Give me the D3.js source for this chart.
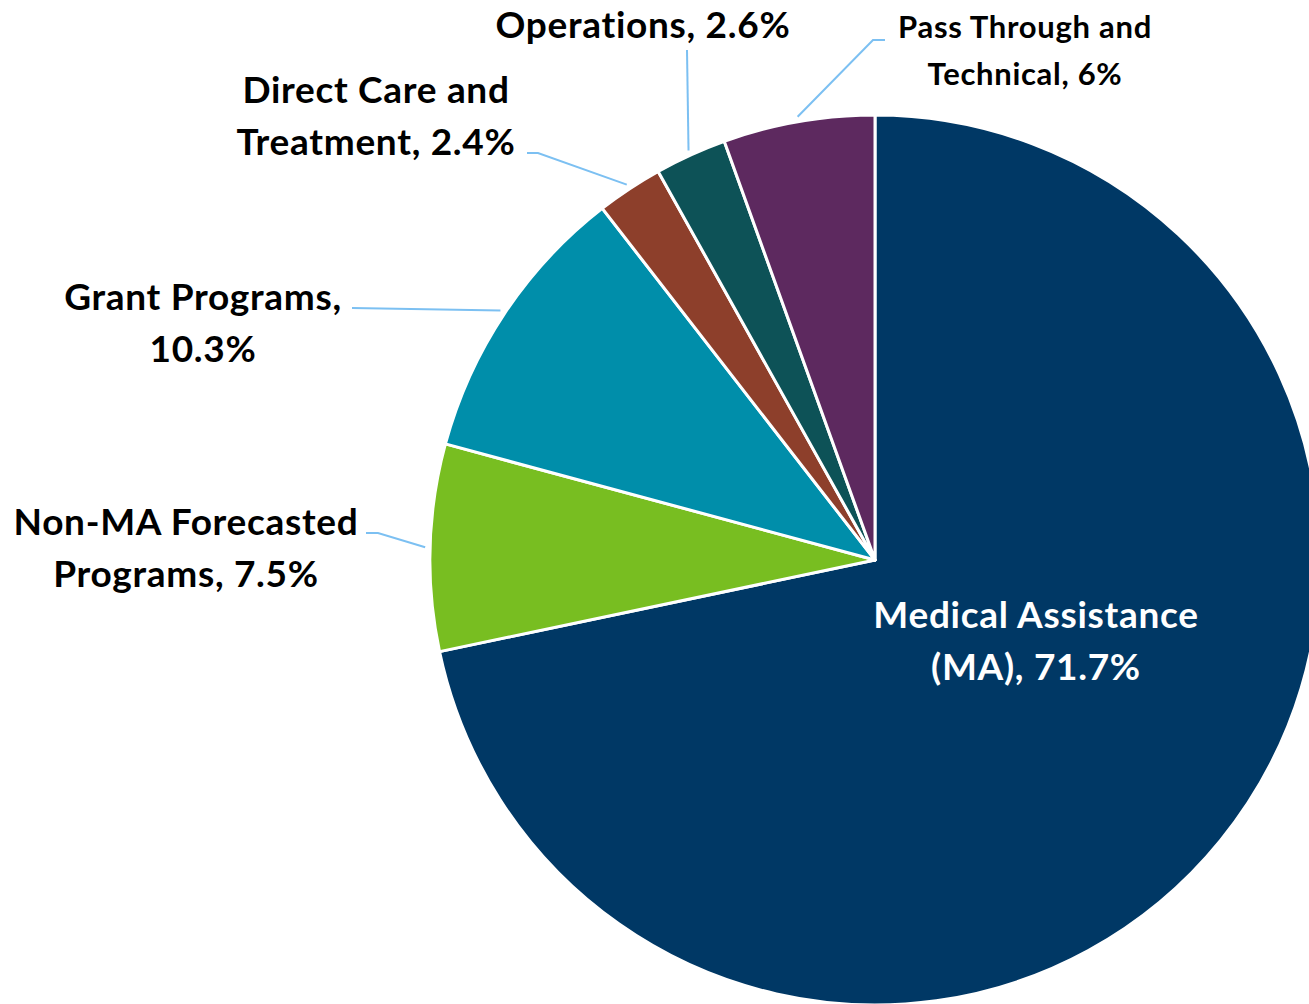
<!DOCTYPE html>
<html><head><meta charset="utf-8">
<script src="https://cdn.jsdelivr.net/npm/d3@7"></script>
<style>body{margin:0;background:#fff}svg{display:block}</style>
</head><body>
<svg id="c" width="1309" height="1004"></svg>
<script>
const categories = ["Medical Assistance (MA)", "Non-MA Forecasted Programs", "Grant Programs", "Direct Care and Treatment", "Operations", "Pass Through and Technical"];
const values = [71.7, 7.5, 10.3, 2.4, 2.6, 5.5];
const valueLabels = ["71.7%", "7.5%", "10.3%", "2.4%", "2.6%", "6%"];
const colors = ["#003865", "#78BE21", "#008EAA", "#8D3F2B", "#0D5257", "#5D295F"];

// label layout (presentation only)
const labelLines = [
  ["Medical Assistance", "(MA), " + valueLabels[0]],
  ["Non-MA Forecasted", "Programs, " + valueLabels[1]],
  ["Grant Programs,", valueLabels[2]],
  ["Direct Care and", "Treatment, " + valueLabels[3]],
  ["Operations, " + valueLabels[4]],
  ["Pass Through and", "Technical, " + valueLabels[5]]
];
const labelPos = [
  {x:1036, y:628, size:37, lh:52, fill:"#fff"},
  {x:186, y:535, size:37, lh:52, fill:"#000", leader:[[366,533],[378,533]]},
  {x:203, y:310, size:37, lh:52, fill:"#000", leader:[[352,308]]},
  {x:376, y:103, size:37, lh:52, fill:"#000", leader:[[527,153],[538,153]]},
  {x:643, y:38, size:37, lh:52, fill:"#000", leader:[[687,50]]},
  {x:1025, y:38, size:31, lh:47, fill:"#000", leader:[[885,40],[873,40]]}
];

const cx = 875, cy = 560, R = 445;
const svg = d3.select("#c");
const g = svg.append("g").attr("transform", `translate(${cx},${cy})`);
const pie = d3.pie().sort(null).value(d => d);
const arcs = pie(values);
const arc = d3.arc().innerRadius(0).outerRadius(R);

g.selectAll("path.slice").data(arcs).join("path")
  .attr("class","slice")
  .attr("d", arc)
  .attr("fill", (d,i) => colors[i])
  .attr("stroke", "#fff").attr("stroke-width", 3).attr("stroke-linejoin","round");

// leader lines
arcs.forEach((a,i) => {
  const lp = labelPos[i];
  if (!lp.leader) return;
  const mid = (a.startAngle + a.endAngle)/2;
  const r2 = R + 5;
  const end = [cx + r2*Math.sin(mid), cy - r2*Math.cos(mid)];
  const pts = lp.leader.concat([end]);
  svg.append("path").attr("d", d3.line()(pts))
    .attr("fill","none").attr("stroke","#7cc0f2").attr("stroke-width",2);
});

// labels
labelLines.forEach((lines,i) => {
  const lp = labelPos[i];
  const t = svg.append("text")
    .attr("text-anchor","middle")
    .attr("font-family","Lato, 'Open Sans', sans-serif")
    .attr("font-weight","700")
    .attr("font-size", lp.size)
    .attr("letter-spacing", 0.7)
    .attr("fill", lp.fill);
  lines.forEach((ln,j) => {
    t.append("tspan").attr("x", lp.x).attr("y", lp.y + j*lp.lh).text(ln);
  });
});
</script>
</body></html>
